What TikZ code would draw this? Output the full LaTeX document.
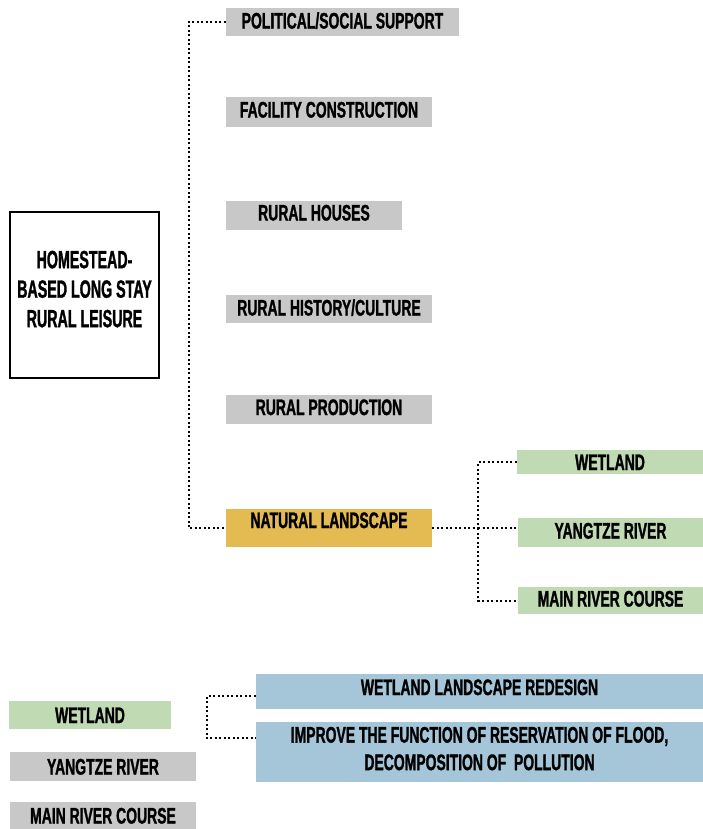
\documentclass[tikz,border=0pt]{standalone}
\usepackage{fontspec}
\newfontfamily\labelfont{Liberation Sans}[FakeStretch=0.62, BoldFeatures={FakeBold=1.2}]
\newfontfamily\rootfont{Liberation Sans}[FakeStretch=0.57, BoldFeatures={FakeBold=1.2}]
\usepackage{xcolor}
\usepackage{tikz}
\usetikzlibrary{positioning, calc}

\definecolor{boxgray}{RGB}{200,200,200}
\definecolor{boxyellow}{RGB}{227,187,82}
\definecolor{boxgreen}{RGB}{192,219,180}
\definecolor{boxblue}{RGB}{165,198,217}

\begin{document}
\begin{tikzpicture}[
    x=1pt, y=-1pt,
    item/.style={fill=boxgray, rectangle, inner sep=0pt, minimum height=28pt, minimum width=206pt, align=center, font=\labelfont\bfseries\fontsize{22.5}{25}\selectfont, text height=16.1pt, text depth=0pt},
    block/.style={fill=boxblue, rectangle, inner sep=0pt, minimum height=60pt, minimum width=447pt, align=center, font=\labelfont\bfseries\fontsize{22.5}{27.5}\selectfont},
    root/.style={draw, line width=2pt, rectangle, inner sep=0pt, minimum height=166pt, minimum width=149pt, align=center, font=\rootfont\bfseries\fontsize{25}{29.5}\selectfont},
    link/.style={draw, line width=2pt, dash pattern=on 2pt off 2.5pt}
]
    \useasboundingbox (0,0) rectangle (703,829);

    % main tree
    \node[root, text depth=12pt] (home) at (84.5,295) {HOMESTEAD-\\BASED LONG STAY\\RURAL LEISURE};
    \node[item, minimum width=233pt, text depth=3pt] (pol) at (342.5,22) {POLITICAL/SOCIAL SUPPORT};
    \node[item, minimum height=30pt, text depth=5pt] (fac) at (329,112) {FACILITY CONSTRUCTION};
    \node[item, minimum width=176pt, minimum height=29pt, text depth=6pt] (hou) at (314,215.5) {RURAL HOUSES};
    \node[item, text depth=3pt] (his) at (329,309) {RURAL HISTORY/CULTURE};
    \node[item, minimum height=29pt, text depth=5pt] (pro) at (329,409.5) {RURAL PRODUCTION};
    \node[item, fill=boxyellow, minimum height=38pt, text depth=16pt] (nat) at (329,528) {NATURAL LANDSCAPE};

    \node[item, fill=boxgreen, minimum width=186pt, minimum height=24pt] (wetR) at (610,462) {WETLAND};
    \node[item, fill=boxgreen, minimum width=185pt, minimum height=29pt, text depth=4pt] (yanR) at (610.5,532.5) {YANGTZE RIVER};
    \node[item, fill=boxgreen, minimum width=185pt, minimum height=27pt, text depth=4pt] (mainR) at (610.5,600.5) {MAIN RIVER COURSE};

    \draw[link] (pol.west) -- ++(-37,0) |- (nat.west);
    \draw[link] (nat.east) -- ++(46,0) coordinate (fork) |- (wetR.west);
    \draw[link] (fork) |- (mainR.west);
    \draw[link] (fork) -- (fork -| yanR.west);

    % legend
    \node[item, fill=boxgreen, minimum width=162pt] (wetL) at (90,715) {WETLAND};
    \node[item, minimum width=186pt, minimum height=29pt] (yanL) at (103,766.5) {YANGTZE RIVER};
    \node[item, minimum width=186pt, minimum height=27pt] (mainL) at (103,815.5) {MAIN RIVER COURSE};

    \node[item, fill=boxblue, minimum width=447pt, minimum height=35pt, text depth=9pt] (red) at (479.5,691.5) {WETLAND LANDSCAPE REDESIGN};
    \node[block, text depth=7pt] (imp) at (479.5,752) {IMPROVE THE FUNCTION OF RESERVATION OF FLOOD,\\DECOMPOSITION OF\ \ POLLUTION};

    \draw[link] ([yshift=-4.5pt]red.west) -- ++(-49,0) coordinate (turn) |- ([yshift=14pt]imp.west);
\end{tikzpicture}
\end{document}
